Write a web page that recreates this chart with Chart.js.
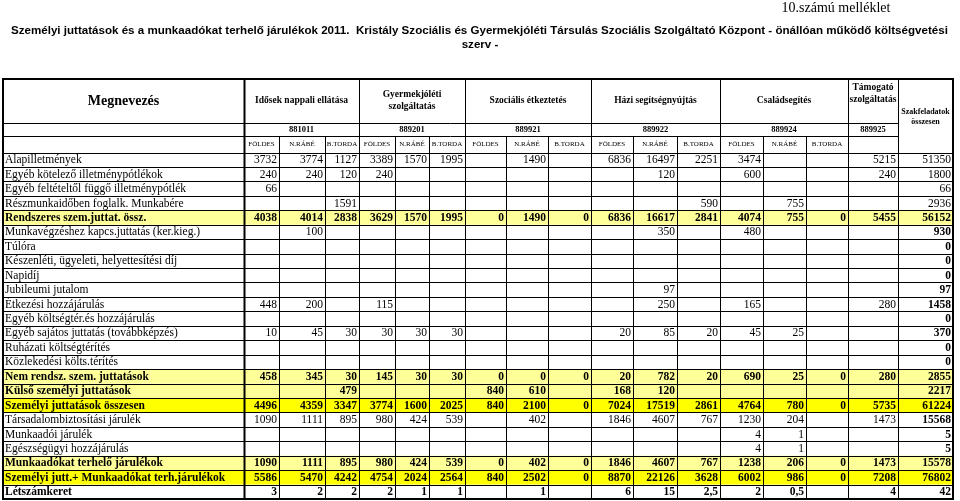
<!DOCTYPE html>
<html>
<head>
<meta charset="utf-8">
<script src="https://cdn.jsdelivr.net/npm/chart.js@4"></script>
<style>
html, body { margin: 0; padding: 0; background: #fff; }
canvas { display: block; }
</style>
</head>
<body>
<canvas id="tabla" width="960" height="501"></canvas>
<script>
// szövegek
const title1 = 'Személyi juttatások és a munkaadókat terhelő járulékok 2011.  Kristály Szociális és Gyermekjóléti Társulás Szociális Szolgáltató Központ - önállóan működő költségvetési';
const title2 = 'szerv -';
const annexLabel = '10.számú melléklet';

const groupNames = [['Idősek nappali ellátása'], ['Gyermekjóléti', 'szolgáltatás'], ['Szociális étkeztetés'],
    ['Házi segítségnyújtás'], ['Családsegítés'], ['Támogató', 'szolgáltatás']];
const groupCodes = ['881011', '889201', '889921', '889922', '889924', '889925'];
const sites = ['FÖLDES', 'N.RÁBÉ', 'B.TORDA'];

// sorok: 15 telephely oszlop + Támogató + összesen
const alapilletmenyek   = [3732, 3774, 1127, 3389, 1570, 1995, null, 1490, null, 6836, 16497, 2251, 3474, null, null, 5215, 51350];
const kotelezoPotlek    = [240, 240, 120, 240, null, null, null, null, null, null, 120, null, 600, null, null, 240, 1800];
const feltetelesPotlek  = [66, null, null, null, null, null, null, null, null, null, null, null, null, null, null, null, 66];
const reszmunkaido      = [null, null, 1591, null, null, null, null, null, null, null, null, 590, null, 755, null, null, 2936];
const rendszeresOssz    = [4038, 4014, 2838, 3629, 1570, 1995, 0, 1490, 0, 6836, 16617, 2841, 4074, 755, 0, 5455, 56152];
const munkavegzes       = [null, 100, null, null, null, null, null, null, null, null, 350, null, 480, null, null, null, 930];
const tulora            = [null, null, null, null, null, null, null, null, null, null, null, null, null, null, null, null, 0];
const keszenleti        = [null, null, null, null, null, null, null, null, null, null, null, null, null, null, null, null, 0];
const napidij           = [null, null, null, null, null, null, null, null, null, null, null, null, null, null, null, null, 0];
const jubileumi         = [null, null, null, null, null, null, null, null, null, null, 97, null, null, null, null, null, 97];
const etkezesi          = [448, 200, null, 115, null, null, null, null, null, null, 250, null, 165, null, null, 280, 1458];
const egyebKoltseg      = [null, null, null, null, null, null, null, null, null, null, null, null, null, null, null, null, 0];
const sajatos           = [10, 45, 30, 30, 30, 30, null, null, null, 20, 85, 20, 45, 25, null, null, 370];
const ruhazati          = [null, null, null, null, null, null, null, null, null, null, null, null, null, null, null, null, 0];
const kozlekedesi       = [null, null, null, null, null, null, null, null, null, null, null, null, null, null, null, null, 0];
const nemRendszeres     = [458, 345, 30, 145, 30, 30, 0, 0, 0, 20, 782, 20, 690, 25, 0, 280, 2855];
const kulso             = [null, null, 479, null, null, null, 840, 610, null, 168, 120, null, null, null, null, null, 2217];
const szemelyiOssz      = [4496, 4359, 3347, 3774, 1600, 2025, 840, 2100, 0, 7024, 17519, 2861, 4764, 780, 0, 5735, 61224];
const tbJarulek         = [1090, 1111, 895, 980, 424, 539, null, 402, null, 1846, 4607, 767, 1230, 204, null, 1473, 15568];
const munkaadoiJarulek  = [null, null, null, null, null, null, null, null, null, null, null, null, 4, 1, null, null, 5];
const egeszsegugyi      = [null, null, null, null, null, null, null, null, null, null, null, null, 4, 1, null, null, 5];
const jarulekOssz       = [1090, 1111, 895, 980, 424, 539, 0, 402, 0, 1846, 4607, 767, 1238, 206, 0, 1473, 15578];
const mindosszesen      = [5586, 5470, 4242, 4754, 2024, 2564, 840, 2502, 0, 8870, 22126, 3628, 6002, 986, 0, 7208, 76802];
const letszam           = [3, 2, 2, 2, 1, 1, null, 1, null, 6, 15, 2.5, 2, 0.5, null, 4, 42];

// [megnevezés, értékek, kiemelés]
const rows = [
    ['Alapilletmények', alapilletmenyek, ''],
    ['Egyéb kötelező illetménypótlékok', kotelezoPotlek, ''],
    ['Egyéb feltételtől függő illetménypótlék', feltetelesPotlek, ''],
    ['Részmunkaidőben foglalk. Munkabére', reszmunkaido, ''],
    ['Rendszeres szem.juttat. össz.', rendszeresOssz, 'light'],
    ['Munkavégzéshez kapcs.juttatás (ker.kieg.)', munkavegzes, ''],
    ['Túlóra', tulora, ''],
    ['Készenléti, ügyeleti, helyettesítési díj', keszenleti, ''],
    ['Napidíj', napidij, ''],
    ['Jubileumi jutalom', jubileumi, ''],
    ['Étkezési hozzájárulás', etkezesi, ''],
    ['Egyéb költségtér.és hozzájárulás', egyebKoltseg, ''],
    ['Egyéb sajátos juttatás (továbbképzés)', sajatos, ''],
    ['Ruházati költségtérítés', ruhazati, ''],
    ['Közlekedési költs.térítés', kozlekedesi, ''],
    ['Nem rendsz. szem. juttatások', nemRendszeres, 'light'],
    ['Külső személyi juttatások', kulso, 'light'],
    ['Személyi juttatások összesen', szemelyiOssz, 'bright'],
    ['Társadalombiztosítási járulék', tbJarulek, ''],
    ['Munkaadói járulék', munkaadoiJarulek, ''],
    ['Egészségügyi hozzájárulás', egeszsegugyi, ''],
    ['Munkaadókat terhelő járulékok', jarulekOssz, 'light'],
    ['Személyi jutt.+ Munkaadókat terh.járulékok', mindosszesen, 'bright'],
    ['Létszámkeret', letszam, 'plainBold']
];

// elrendezés (a tengelyek egységeiben)
const colEdges = [3, 244, 279, 325, 359, 395, 429, 465, 506, 548, 591, 633, 677, 720, 763, 806, 848, 898, 953];
const headTop = 79, head1 = 123, head2 = 136, head3 = 152.5, tableBottom = 499;
const rowH = (tableBottom - head3) / rows.length;
const fills = { light: '#ffff99', bright: '#ffff00' };
const serif = '"Liberation Serif", "Times New Roman", serif';
const sans = '"Liberation Sans", Arial, sans-serif';

function fmt(v) {
    return v === null ? '' : String(v).replace('.', ',');
}

const tablePlugin = {
    id: 'tablePlugin',
    afterDraw(chart) {
        const { ctx, scales: { x, y } } = chart;
        const X = v => x.getPixelForValue(v);
        const Y = v => y.getPixelForValue(v);
        const crisp = p => Math.round(p) + 0.5;

        ctx.save();
        // cím
        ctx.fillStyle = '#000';
        ctx.textBaseline = 'middle';
        ctx.font = '14px ' + serif;
        ctx.textAlign = 'center';
        ctx.fillText(annexLabel, X(836), Y(8));
        ctx.font = 'bold 12px ' + sans;
        const titleSize = 12 * (X(948) - X(11)) / ctx.measureText(title1).width;
        ctx.font = 'bold ' + titleSize.toFixed(2) + 'px ' + sans;
        ctx.textAlign = 'left';
        ctx.fillText(title1, X(11), Y(31));
        ctx.textAlign = 'center';
        ctx.fillText(title2, X(480), Y(45));

        // sorok háttere
        rows.forEach((r, i) => {
            if (fills[r[2]]) {
                ctx.fillStyle = fills[r[2]];
                ctx.fillRect(X(colEdges[0]), Y(head3 + i * rowH), X(colEdges[18]) - X(colEdges[0]), Y(rowH) - Y(0));
            }
        });

        // fejléc
        ctx.fillStyle = '#000';
        ctx.textAlign = 'center';
        ctx.font = 'bold 14px ' + serif;
        ctx.fillText('Megnevezés', X((colEdges[0] + colEdges[1]) / 2), Y(101));
        groupNames.forEach((name, g) => {
            const l = g < 5 ? colEdges[1 + 3 * g] : colEdges[16];
            const r = g < 5 ? colEdges[4 + 3 * g] : colEdges[17];
            const cx = X((l + r) / 2);
            ctx.font = 'bold 9.5px ' + serif;
            if (name.length === 1) {
                ctx.fillText(name[0], cx, Y(101));
            } else if (g === 5) {
                ctx.fillText(name[0], cx, Y(88));
                ctx.fillText(name[1], cx, Y(100));
            } else {
                ctx.fillText(name[0], cx, Y(95));
                ctx.fillText(name[1], cx, Y(107));
            }
            ctx.font = 'bold 8.5px ' + serif;
            ctx.fillText(groupCodes[g], cx, Y(130));
            if (g < 5) {
                ctx.font = '7px ' + serif;
                sites.forEach((s, k) => {
                    const c = 1 + 3 * g + k;
                    ctx.fillText(s, X((colEdges[c] + colEdges[c + 1]) / 2), Y(144.5));
                });
            }
        });
        ctx.font = 'bold 8px ' + serif;
        const totX = X((colEdges[17] + colEdges[18]) / 2);
        ctx.fillText('Szakfeladatok', totX, Y(112));
        ctx.fillText('összesen', totX, Y(122));

        // adatsorok
        rows.forEach((r, i) => {
            const cy = Y(head3 + (i + 0.5) * rowH);
            const bold = r[2] !== '';
            ctx.font = (bold ? 'bold ' : '') + '11.5px ' + serif;
            ctx.textAlign = 'left';
            ctx.fillText(r[0], X(colEdges[0] + 2), cy + 0.5);
            ctx.textAlign = 'right';
            r[1].forEach((v, j) => {
                const b = bold || (j === 16 && i >= 5);
                ctx.font = (b ? 'bold ' : '') + '11.5px ' + serif;
                ctx.fillText(fmt(v), X(colEdges[j + 2]) - 2, cy + 0.5);
            });
        });

        // vonalak
        ctx.strokeStyle = '#000';
        ctx.lineWidth = 1;
        const hline = (yy, x0, x1) => {
            ctx.beginPath();
            ctx.moveTo(X(x0), crisp(Y(yy)));
            ctx.lineTo(X(x1), crisp(Y(yy)));
            ctx.stroke();
        };
        const vline = (xx, y0, y1) => {
            ctx.beginPath();
            ctx.moveTo(crisp(X(xx)), Y(y0));
            ctx.lineTo(crisp(X(xx)), Y(y1));
            ctx.stroke();
        };
        hline(head1, colEdges[0], colEdges[17]);
        hline(head2, colEdges[0], colEdges[17]);
        hline(head3, colEdges[0], colEdges[18]);
        for (let i = 1; i < rows.length; i++) {
            hline(head3 + i * rowH, colEdges[0], colEdges[18]);
        }
        [4, 7, 10, 13, 16, 17].forEach(c => vline(colEdges[c], headTop, tableBottom));
        for (let c = 2; c < 17; c++) {
            if (![4, 7, 10, 13, 16].includes(c)) vline(colEdges[c], head2, tableBottom);
        }
        ctx.lineWidth = 2;
        vline(colEdges[1], headTop, tableBottom);
        ctx.strokeRect(X(colEdges[0]), Y(headTop), X(colEdges[18]) - X(colEdges[0]), Y(tableBottom) - Y(headTop));
        ctx.restore();
    }
};

new Chart(document.getElementById('tabla'), {
    type: 'scatter',
    data: { datasets: [{ data: [] }] },
    options: {
        responsive: false,
        animation: false,
        layout: { padding: 0 },
        plugins: {
            legend: { display: false },
            tooltip: { enabled: false }
        },
        scales: {
            x: { type: 'linear', min: 0, max: 960, display: false },
            y: { type: 'linear', min: 0, max: 501, reverse: true, display: false }
        }
    },
    plugins: [tablePlugin]
});
</script>
</body>
</html>
